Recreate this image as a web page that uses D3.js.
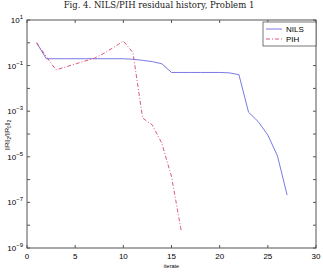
<!DOCTYPE html>
<html>
<head>
<meta charset="utf-8">
<script src="https://cdn.jsdelivr.net/npm/d3@7"></script>
<style>
  body { margin: 0; background: #fff; }
  svg { display: block; }
</style>
</head>
<body>
<svg id="chart" width="323" height="273"></svg>
<script>
// NILS residual per iterate
const nilsIter = [1, 2, 3, 4, 5, 6, 7, 8, 9, 10, 11, 12, 13, 14, 15, 16, 17, 18, 19, 20, 21, 22, 23, 24, 25, 26, 27];
const nilsRes = [1.0, 0.2, 0.2, 0.2, 0.2, 0.2, 0.2, 0.2, 0.2, 0.2, 0.19, 0.17, 0.15, 0.12, 0.05, 0.05, 0.05, 0.05, 0.05, 0.05, 0.048, 0.04, 9e-4, 3.5e-4, 9e-5, 1.1e-5, 2.1e-7];
// PIH residual per iterate
const pihIter = [1, 2, 3, 4, 5, 6, 7, 8, 9, 10, 11, 12, 13, 14, 15, 16];
const pihRes = [1.0, 0.25, 0.065, 0.087, 0.117, 0.158, 0.21, 0.35, 0.63, 1.2, 0.37, 5e-4, 2.5e-4, 3.9e-5, 1.35e-6, 6e-9];

const xTicks = [0, 5, 10, 15, 20, 25, 30];
const yTicks = [1e1, 1e0, 1e-1, 1e-2, 1e-3, 1e-4, 1e-5, 1e-6, 1e-7, 1e-8, 1e-9];
const yLabelExps = [1, -1, -3, -5, -7, -9];

const svg = d3.select('#chart');
const margin = { top: 20, right: 7, bottom: 25, left: 27 };
const W = 323 - margin.left - margin.right;
const H = 273 - margin.top - margin.bottom;

const x = d3.scaleLinear().domain([0, 30]).range([0, W]);
const y = d3.scaleLog().domain([1e-9, 1e1]).range([H, 0]);

// title
svg.append('text')
    .attr('x', 159)
    .attr('y', 8)
    .attr('text-anchor', 'middle')
    .style('font-family', 'DejaVu Serif, serif')
    .style('font-size', '8.5px')
    .attr('fill', '#222')
    .text('Fig. 4. NILS/PIH residual history, Problem 1');

const g = svg.append('g').attr('transform', `translate(${margin.left},${margin.top})`);

// frame
g.append('rect')
    .attr('width', W).attr('height', H)
    .attr('fill', 'none').attr('stroke', '#555').attr('stroke-width', 1);

const tickLen = 3;
// x ticks, bottom and top, pointing inward
xTicks.forEach(t => {
    g.append('line').attr('x1', x(t)).attr('x2', x(t)).attr('y1', H).attr('y2', H - tickLen).attr('stroke', '#555');
    g.append('line').attr('x1', x(t)).attr('x2', x(t)).attr('y1', 0).attr('y2', tickLen).attr('stroke', '#555');
    g.append('text')
        .attr('x', x(t)).attr('y', H + 11)
        .attr('text-anchor', 'middle')
        .style('font-family', 'Liberation Sans, sans-serif')
        .style('font-size', '8px')
        .text(t);
});

// y ticks, left and right
yTicks.forEach(t => {
    g.append('line').attr('x1', 0).attr('x2', tickLen).attr('y1', y(t)).attr('y2', y(t)).attr('stroke', '#555');
    g.append('line').attr('x1', W).attr('x2', W - tickLen).attr('y1', y(t)).attr('y2', y(t)).attr('stroke', '#555');
});

yLabelExps.forEach(e => {
    const txt = g.append('text')
        .attr('x', -4).attr('y', y(Math.pow(10, e)) + 3)
        .attr('text-anchor', 'end')
        .style('font-family', 'Liberation Sans, sans-serif')
        .style('font-size', '8px');
    txt.append('tspan').text('10');
    txt.append('tspan').attr('dy', -4).style('font-size', '6px').text(e < 0 ? '\u2212' + (-e) : e);
});

// axis labels
svg.append('text')
    .attr('x', margin.left + x(15)).attr('y', 268)
    .attr('text-anchor', 'middle')
    .style('font-family', 'Liberation Sans, sans-serif')
    .style('font-size', '5.5px')
    .text('iterate');

const yl = svg.append('text')
    .attr('transform', `translate(9,${margin.top + H / 2 + 1}) rotate(-90)`)
    .attr('text-anchor', 'middle')
    .style('font-family', 'Liberation Sans, sans-serif')
    .style('font-size', '6px');
yl.append('tspan').text('||R||');
yl.append('tspan').attr('dy', 1.5).style('font-size', '4.5px').text('2');
yl.append('tspan').attr('dy', -1.5).text('/||R');
yl.append('tspan').attr('dy', 1.5).style('font-size', '4.5px').text('0');
yl.append('tspan').attr('dy', -1.5).text('||');
yl.append('tspan').attr('dy', 1.5).style('font-size', '4.5px').text('2');

const line = d3.line()
    .x(d => x(d[0]))
    .y(d => y(d[1]));

const nilsColor = '#6a6ae0';
const pihColor = '#d9466a';

g.append('path')
    .datum(d3.zip(nilsIter, nilsRes))
    .attr('fill', 'none')
    .attr('stroke', nilsColor)
    .attr('stroke-width', 0.9)
    .attr('d', line);

g.append('path')
    .datum(d3.zip(pihIter, pihRes))
    .attr('fill', 'none')
    .attr('stroke', pihColor)
    .attr('stroke-width', 0.9)
    .attr('stroke-dasharray', '4,2,1,2')
    .attr('d', line);

// legend
const lg = g.append('g').attr('transform', `translate(${W - 53},2)`);
lg.append('rect')
    .attr('width', 53).attr('height', 24)
    .attr('fill', '#fff').attr('stroke', '#555').attr('stroke-width', 0.8);
[['NILS', nilsColor, null], ['PIH', pihColor, '4,2,1,2']].forEach(([name, col, dash], i) => {
    const yy = 7 + i * 10;
    lg.append('line')
        .attr('x1', 3).attr('x2', 19).attr('y1', yy).attr('y2', yy)
        .attr('stroke', col).attr('stroke-width', 0.9)
        .attr('stroke-dasharray', dash);
    lg.append('text')
        .attr('x', 23).attr('y', yy + 3)
        .style('font-family', 'Liberation Sans, sans-serif')
        .style('font-size', '8px')
        .text(name);
});
</script>
</body>
</html>
